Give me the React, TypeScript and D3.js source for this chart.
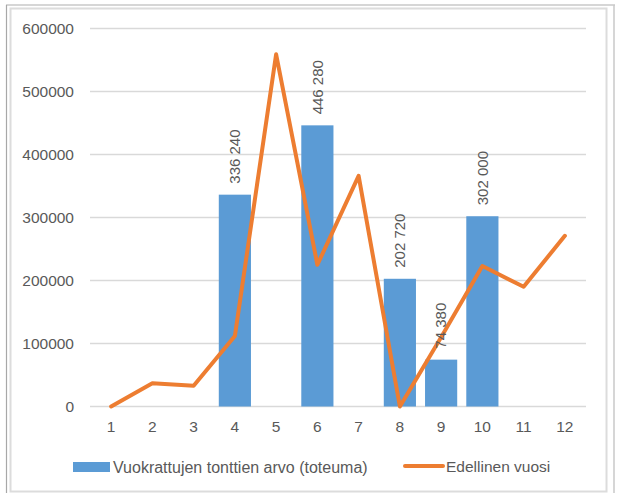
import React from "react";
import * as d3 from "d3";

const months = ["1", "2", "3", "4", "5", "6", "7", "8", "9", "10", "11", "12"];
const actualValues: (number | null)[] = [null, null, null, 336240, null, 446280, null, 202720, 74380, 302000, null, null];
const previousYear: number[] = [0, 37000, 33000, 112000, 559000, 225000, 366000, 0, 110000, 223000, 190000, 271000];
const yTicks = [0, 100000, 200000, 300000, 400000, 500000, 600000];
const seriesNames = ["Vuokrattujen tonttien arvo (toteuma)", "Edellinen vuosi"];

const W = 619;
const H = 493;
const BLUE = "#5B9BD5";
const ORANGE = "#ED7D31";
const TEXT = "#595959";
const FONT = "'Liberation Sans', Arial, sans-serif";

const fmtLabel = (v: number) => d3.format(",")(v).replace(/,/g, " ");

export default function App() {
  const x = d3.scaleBand<string>().domain(months).range([90.5, 585.5]).paddingInner(0.22).paddingOuter(0.11);
  const y = d3.scaleLinear().domain([0, 600000]).range([406.5, 28.5]);
  const cx = (m: string) => (x(m) as number) + x.bandwidth() / 2;

  const line = d3
    .line<number>()
    .x((_, i) => cx(months[i]))
    .y((d) => y(d));

  return (
    <svg width={W} height={H} style={{ position: "absolute", left: 0, top: 0, background: "#fff" }} fontFamily={FONT}>
      {/* frames */}
      <line x1={6} x2={615} y1={5} y2={5} stroke="#c8c8c8" strokeWidth={1.5} />
      <line x1={6.5} x2={6.5} y1={5} y2={H} stroke="#a8a8a8" strokeWidth={1.2} />
      <line x1={614} x2={614} y1={5} y2={H} stroke="#c8c8c8" strokeWidth={1.5} />
      <rect x={10.5} y={8.5} width={596} height={483} fill="#fff" stroke="#dcdcdc" strokeWidth={2} />

      {/* gridlines */}
      {yTicks.map((t) => (
        <g key={t}>
          <line x1={90} x2={586} y1={y(t)} y2={y(t)} stroke="#d9d9d9" strokeWidth={1.5} />
          <text x={74} y={y(t)} dy="0.35em" textAnchor="end" fontSize={15.5} fill={TEXT}>
            {t}
          </text>
        </g>
      ))}

      {/* bars */}
      {actualValues.map((v, i) =>
        v == null ? null : (
          <rect key={i} x={x(months[i])} y={y(v)} width={x.bandwidth()} height={y(0) - y(v)} fill={BLUE} />
        )
      )}

      {/* line */}
      <path d={line(previousYear) || ""} fill="none" stroke={ORANGE} strokeWidth={4} strokeLinejoin="round" strokeLinecap="round" />

      {/* data labels */}
      {actualValues.map((v, i) =>
        v == null ? null : (
          <text
            key={i}
            transform={`translate(${cx(months[i])},${y(v) - 11}) rotate(-90)`}
            dy="0.35em"
            textAnchor="start"
            fontSize={15}
            fill={TEXT}
          >
            {fmtLabel(v)}
          </text>
        )
      )}

      {/* x labels */}
      {months.map((m) => (
        <text key={m} x={cx(m)} y={427} dy="0.35em" textAnchor="middle" fontSize={15.5} fill={TEXT}>
          {m}
        </text>
      ))}

      {/* legend */}
      <rect x={73} y={462} width={37} height={10} fill={BLUE} />
      <text x={113} y={467} dy="0.35em" fontSize={16} fill={TEXT}>
        {seriesNames[0]}
      </text>
      <line x1={405} x2={443} y1={466} y2={466} stroke={ORANGE} strokeWidth={4} strokeLinecap="round" />
      <text x={446} y={467} dy="0.35em" fontSize={15.5} fill={TEXT}>
        {seriesNames[1]}
      </text>
    </svg>
  );
}
